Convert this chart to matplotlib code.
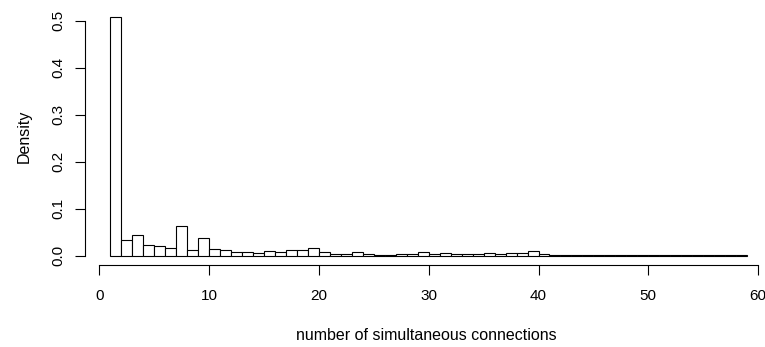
import matplotlib
matplotlib.use("Agg")
import matplotlib.pyplot as plt

# histogram of simultaneous connections, unit-width bins from 1 to 59
bin_edges = list(range(1, 60))
density = [
    0.508, 0.034, 0.044, 0.023, 0.021, 0.017, 0.064, 0.013, 0.037, 0.014,
    0.012, 0.007, 0.007, 0.005, 0.010, 0.007, 0.013, 0.011, 0.016, 0.007,
    0.004, 0.004, 0.007, 0.004, 0.002, 0.002, 0.004, 0.004, 0.007, 0.004,
    0.006, 0.004, 0.003, 0.004, 0.006, 0.004, 0.006, 0.006, 0.010, 0.004,
    0.002, 0.001, 0.001, 0.001, 0.001, 0.001, 0.002, 0.002, 0.001, 0.002,
    0.001, 0.0005, 0.0005, 0.0005, 0.0005, 0.001, 0.001, 0.0005,
]
x_ticks = [0, 10, 20, 30, 40, 50, 60]
y_ticks = [0.0, 0.1, 0.2, 0.3, 0.4, 0.5]
y_tick_labels = ["0.0", "0.1", "0.2", "0.3", "0.4", "0.5"]

plt.rcParams["font.family"] = ["Liberation Sans", "DejaVu Sans"]
plt.rcParams["font.size"] = 11

W, H = 765, 347
fig = plt.figure(figsize=(W / 100, H / 100), dpi=100)

# plot region in pixels (R-style 4% padding around data range)
left_px, right_px = 84.8, 772.6
top_px, bottom_px = 7.5, 265.2
ax = fig.add_axes([left_px / W, 1 - bottom_px / H,
                   (right_px - left_px) / W, (bottom_px - top_px) / H])

ax.bar(bin_edges[:-1], density, width=1, align="edge",
       color="white", edgecolor="black", linewidth=0.8)

ax.set_xlim(-1.32, 61.32)
ax.set_ylim(-0.0203, 0.528)

for side in ["top", "right"]:
    ax.spines[side].set_visible(False)
ax.spines["left"].set_bounds(0, 0.5)
ax.spines["bottom"].set_bounds(0, 60)
for side in ["left", "bottom"]:
    ax.spines[side].set_linewidth(0.8)

ax.set_xticks(x_ticks)
ax.set_yticks(y_ticks)
ax.set_yticklabels(y_tick_labels, rotation=90, va="center")
ax.tick_params(axis="both", direction="out", length=7.2, width=0.8)
ax.tick_params(axis="x", pad=10)
ax.tick_params(axis="y", pad=6.5)

fig.text(426.7 / W, 1 - 340 / H, "number of simultaneous connections",
         ha="center", va="baseline", fontsize=11.5)
fig.text(24 / W, 1 - 136 / H, "Density", rotation=90,
         ha="center", va="center", fontsize=11.5)

fig.savefig("out.png", dpi=100)
